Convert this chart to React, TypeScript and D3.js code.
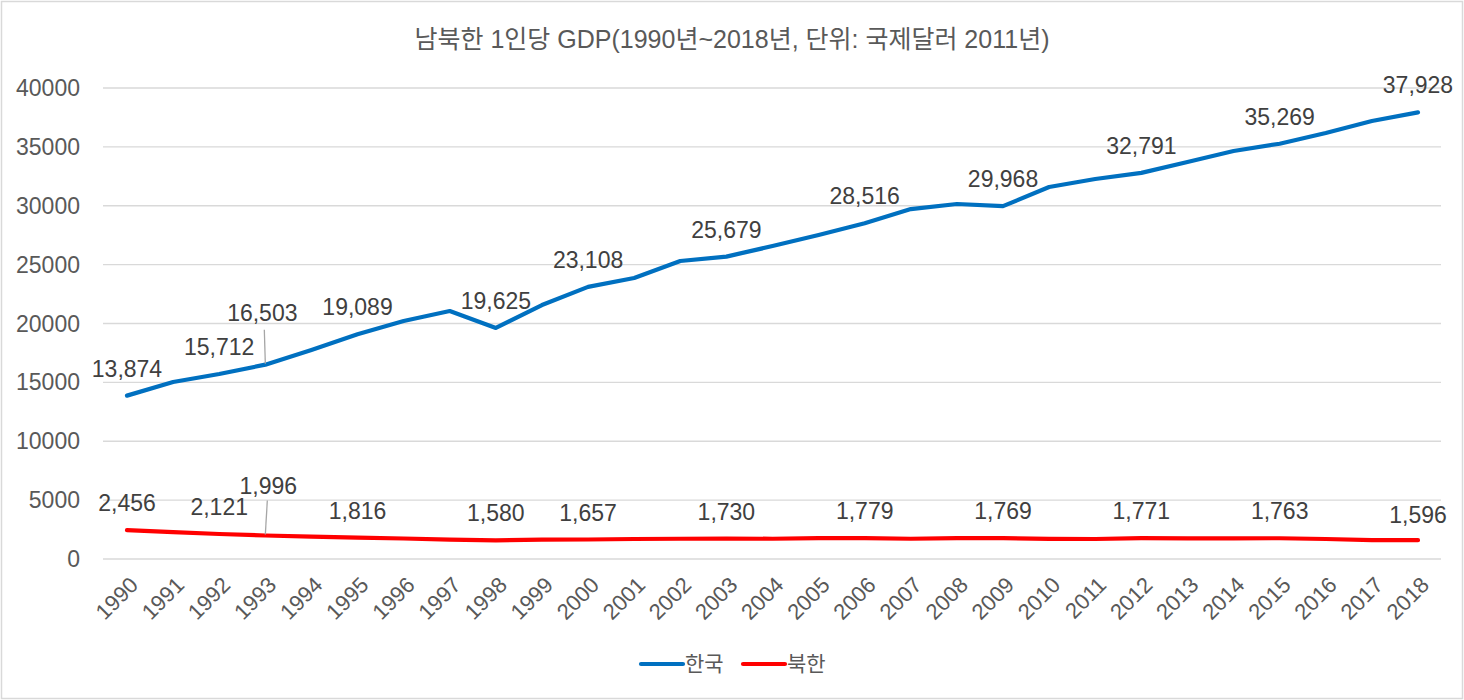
import { useMemo } from 'react'
import * as d3 from 'd3'

const years = d3.range(1990, 2019).map(String)

const southKorea = [
  13874, 15030, 15712, 16503, 17750, 19089, 20210, 21060, 19625, 21570,
  23108, 23860, 25310, 25679, 26580, 27510, 28516, 29720, 30150, 29968,
  31590, 32270, 32791, 33710, 34650, 35269, 36180, 37200, 37928,
]

const northKorea = [
  2456, 2290, 2121, 1996, 1900, 1816, 1740, 1650, 1580, 1640,
  1657, 1700, 1720, 1730, 1720, 1770, 1779, 1720, 1770, 1769,
  1710, 1700, 1771, 1760, 1760, 1763, 1700, 1610, 1596,
]

const labelIdx = [0, 2, 3, 5, 8, 10, 13, 16, 19, 22, 25, 28]
const yTicks = d3.range(0, 40001, 5000)

const series = [
  { name: '한국', values: southKorea, color: '#0070C0' },
  { name: '북한', values: northKorea, color: '#FF0000' },
]

const W = 1464
const H = 700
const FONT = '"Liberation Sans", Arial, "Noto Sans CJK KR", sans-serif'
const TEXT = '#595959'

export default function App() {
  const x = useMemo(() => d3.scalePoint<string>().domain(years).range([127, 1418]), [])
  const y = useMemo(() => d3.scaleLinear().domain([0, 40000]).range([559, 88]), [])
  const line = d3.line<number>()
    .x((_, i) => x(years[i])!)
    .y(d => y(d))

  const fmt = d3.format(',')

  return (
    <div style={{ position: 'absolute', left: 0, top: 0 }}>
      <svg width={W} height={H} style={{ fontFamily: FONT, display: 'block' }}>
        <rect x={1.5} y={1.5} width={W - 3} height={H - 3} fill="#fff" stroke="#d9d9d9" strokeWidth={1.5} />

        <text x={732} y={48} textAnchor="middle" fontSize={25} fill={TEXT}>
          남북한 1인당 GDP(1990년~2018년, 단위: 국제달러 2011년)
        </text>

        {/* 격자선 + y축 */}
        {yTicks.map(t => (
          <g key={t}>
            <line x1={103} x2={1441} y1={y(t)} y2={y(t)} stroke="#d9d9d9" strokeWidth={1.3} />
            <text x={80} y={y(t)} dy="0.35em" textAnchor="end" fontSize={23} fill={TEXT}>{t}</text>
          </g>
        ))}

        {/* x축 */}
        {years.map(yr => (
          <text
            key={yr}
            transform={`translate(${x(yr)! + 7},${581}) rotate(-45)`}
            textAnchor="end"
            dy="0.35em"
            fontSize={22}
            fill={TEXT}
          >
            {yr}
          </text>
        ))}

        {/* 선 */}
        {series.map(s => (
          <path key={s.name} d={line(s.values) ?? ''} fill="none" stroke={s.color} strokeWidth={4.2} strokeLinejoin="round" strokeLinecap="round" />
        ))}

        {/* 1993 지시선 */}
        <line x1={x('1993')!} x2={x('1993')! - 1} y1={y(southKorea[3]) - 1} y2={y(southKorea[3]) - 35} stroke="#a6a6a6" strokeWidth={1.3} />
        <line x1={x('1993')!} x2={x('1993')! + 2} y1={y(northKorea[3]) - 1} y2={y(northKorea[3]) - 35} stroke="#a6a6a6" strokeWidth={1.3} />

        {/* 데이터 레이블 */}
        {series.map(s =>
          labelIdx.map(i => {
            let dx = 0
            let dy = -27
            if (i === 3) { dx = s.name === '한국' ? -3 : 3; dy = s.name === '한국' ? -52 : -50 }
            if (i === 28 && s.name === '북한') dy = -25
            return (
              <text
                key={s.name + i}
                x={x(years[i])! + dx}
                y={y(s.values[i]) + dy}
                dy="0.35em"
                textAnchor="middle"
                fontSize={23}
                fill="#404040"
              >
                {fmt(s.values[i])}
              </text>
            )
          })
        )}

        {/* 범례 */}
        {series.map((s, i) => {
          const lx = 641 + i * 102
          return (
            <g key={s.name}>
              <line x1={lx} x2={lx + 42} y1={664} y2={664} stroke={s.color} strokeWidth={4.2} strokeLinecap="round" />
              <text x={lx + 44} y={664} dy="0.35em" fontSize={21} fill={TEXT}>{s.name}</text>
            </g>
          )
        })}
      </svg>
    </div>
  )
}
